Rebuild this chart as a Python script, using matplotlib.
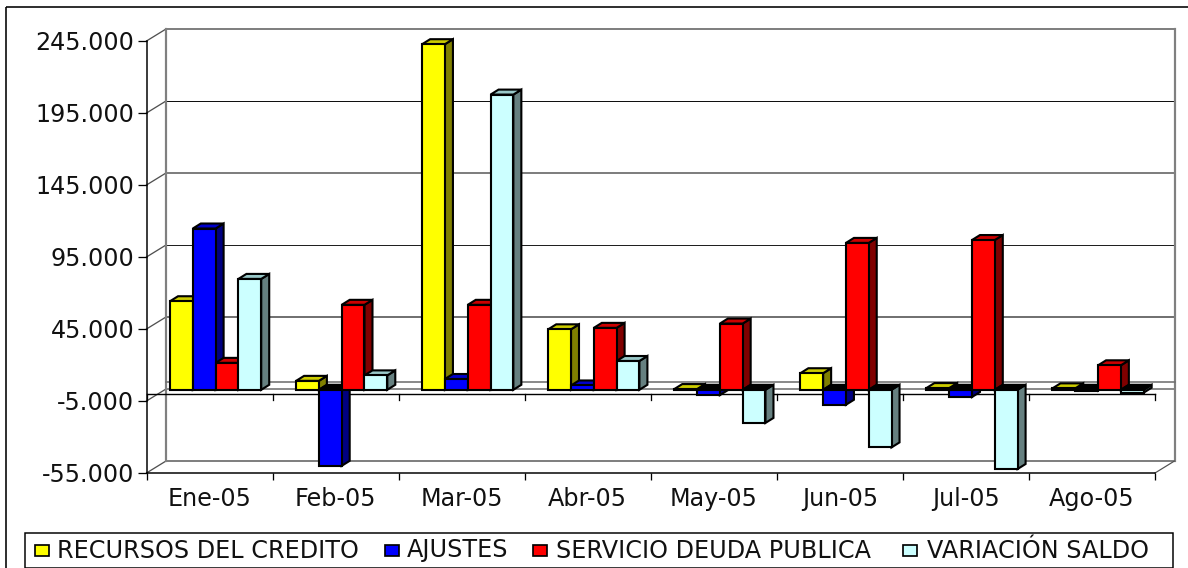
import matplotlib
matplotlib.use("Agg")
import matplotlib.pyplot as plt
from matplotlib.patches import Polygon, Rectangle

months = ["Ene-05", "Feb-05", "Mar-05", "Abr-05", "May-05", "Jun-05", "Jul-05", "Ago-05"]
recursos = [61500, 6200, 240000, 42000, 500, 11500, 1200, 1000]
ajustes = [112000, -52800, 7500, 3000, -3700, -10400, -5000, -500]
servicio = [18700, 59000, 59000, 43000, 46000, 102000, 104000, 17000]
variacion = [77000, 10000, 205000, 20000, -23000, -40000, -55000, -2000]
series_names = ["RECURSOS DEL CREDITO", "AJUSTES", "SERVICIO DEUDA PUBLICA", "VARIACIÓN SALDO"]
y_ticks = [-55000, -5000, 45000, 95000, 145000, 195000, 245000]
y_labels = ["-55.000", "-5.000", "45.000", "95.000", "145.000", "195.000", "245.000"]

front_colors = ["#FFFF00", "#0000FF", "#FF0000", "#CCFFFF"]
top_colors = ["#CCCC00", "#0000CC", "#CC0000", "#99C8C8"]
side_colors = ["#808000", "#000080", "#800000", "#668080"]
grid_colors = ["#808080", "#707070", "#505050", "#202020", "#606060", "#101010", "#808080"]
grid_widths = [2.0, 1.6, 1.6, 1.0, 1.6, 1.0, 2.0]

plt.rcParams["font.family"] = "DejaVu Sans"
W, H = 1188, 568
fig = plt.figure(figsize=(W / 100, H / 100), dpi=100, facecolor="white")

# overlay in pixel coordinates for the frame and the legend
ov = fig.add_axes([0, 0, 1, 1])
ov.set_xlim(0, W)
ov.set_ylim(H, 0)
ov.axis("off")

L, R, T, B = 146.5, 1155, 41, 473
ax = fig.add_axes([L / W, (H - B) / H, (R - L) / W, (B - T) / H], facecolor="none")
ax.set_xlim(0, 8)
ax.set_ylim(-55000, 245000)
px_x = 8 / (R - L)
px_y = 300000 / (B - T)


def ln(px):
    return px * 0.72


# depth settings (converted from pixels to data units)
wall_dx, wall_dy = 19.5 * px_x, 12 * px_y
bar_off_x, bar_off_y = 6.5 * px_x, 4 * px_y
depth_x, depth_y = 8 * px_x, 5 * px_y
bar_w = 22.8 * px_x
group_gap = 0.135

# walls: horizontal gridlines and diagonals
for t, c, w in zip(y_ticks, grid_colors, grid_widths):
    ax.plot([wall_dx, 8 + wall_dx], [t + wall_dy] * 2, color=c, lw=ln(w), clip_on=False, zorder=1,
            solid_capstyle="butt")
    ax.plot([0, wall_dx], [t, t + wall_dy], color="#505050", lw=ln(1.3), clip_on=False, zorder=1)
ax.plot([wall_dx] * 2, [-55000 + wall_dy, 245000 + wall_dy], color="#808080", lw=ln(2.2), clip_on=False, zorder=1)
ax.plot([8 + wall_dx] * 2, [-55000 + wall_dy, 245000 + wall_dy], color="#808080", lw=ln(2.2), clip_on=False, zorder=1)
ax.plot([8, 8 + wall_dx], [-55000, -55000 + wall_dy], color="#505050", lw=ln(1.2), clip_on=False, zorder=1)
# zero line on the back wall and on the front
ax.plot([wall_dx, 8 + wall_dx], [wall_dy, wall_dy], color="#707070", lw=ln(1.6), clip_on=False, zorder=1)
ax.plot([0, 8], [0, 0], color="black", lw=ln(1.4), clip_on=False, zorder=2)
for i in range(9):
    ax.plot([i, i], [0, -6 * px_y], color="black", lw=ln(1.3), clip_on=False, zorder=2)

# bars
all_series = [recursos, ajustes, servicio, variacion]
z = 3
edge = dict(edgecolor="black", linewidth=ln(2.1), joinstyle="miter", clip_on=False)
for m in range(len(months)):
    for s, vals in enumerate(all_series):
        v = vals[m]
        x0 = m + group_gap + s * bar_w + bar_off_x
        x1 = x0 + bar_w
        y0 = bar_off_y
        y1 = bar_off_y + v
        yt = max(y0, y1)
        side = Polygon([(x1, y0), (x1 + depth_x, y0 + depth_y), (x1 + depth_x, y1 + depth_y), (x1, y1)],
                       closed=True, facecolor=side_colors[s], zorder=z, **edge)
        top = Polygon([(x0, yt), (x0 + depth_x, yt + depth_y), (x1 + depth_x, yt + depth_y), (x1, yt)],
                      closed=True, facecolor=top_colors[s] if v >= 0 else "black", zorder=z + 0.1, **edge)
        ax.add_patch(side)
        ax.add_patch(top)
        ax.bar(x0, v, width=bar_w, bottom=y0, align="edge", color=front_colors[s], zorder=z + 0.2, **edge)
        z += 1

# axes
for sp in ("top", "right"):
    ax.spines[sp].set_visible(False)
for sp in ("left", "bottom"):
    ax.spines[sp].set_linewidth(ln(1.5))
    ax.spines[sp].set_zorder(2)
ax.set_yticks(y_ticks)
ax.set_yticklabels(y_labels)
ax.set_xticks(range(9))
ax.set_xticklabels([])
ax.set_xticks([i + 0.5 for i in range(8)], minor=True)
ax.set_xticklabels(months, minor=True)
ax.tick_params(axis="y", length=ln(9), width=ln(1.3), pad=ln(3), labelsize=17.2, labelcolor="#111111")
ax.tick_params(axis="x", which="major", length=ln(6.5), width=ln(1.3))
ax.tick_params(axis="x", which="minor", length=0, pad=ln(14), labelsize=17.2, labelcolor="#111111")

# outer frame (top and left edges only)
ov.plot([5.5, 5.5], [H, 6.5], color="black", lw=ln(1.6), solid_capstyle="butt")
ov.plot([5.5, W], [6.5, 6.5], color="black", lw=ln(1.6), solid_capstyle="butt")

# legend
ov.add_patch(Rectangle((25, 532.5), 1148, 35, facecolor="white", edgecolor="black", linewidth=ln(1.5)))
marker_x = [35, 385, 533, 903]
label_x = [57, 407, 556, 927]
for name, mx, lx, c in zip(series_names, marker_x, label_x, front_colors):
    ov.add_patch(Rectangle((mx, 545), 14, 10.5, facecolor=c, edgecolor="black", linewidth=ln(1.7)))
    ov.text(lx, 550.5, name, fontsize=17.2, va="center", ha="left", color="#111111")

fig.savefig("out.png", dpi=100, facecolor="white")
